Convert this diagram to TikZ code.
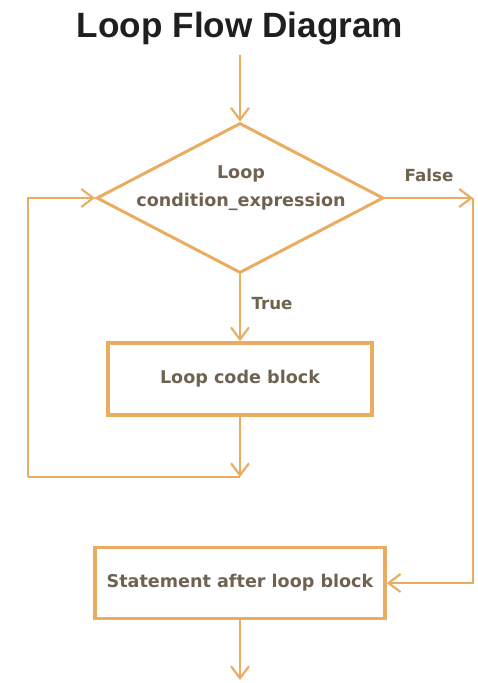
\documentclass[tikz,border=0pt]{standalone}
\usepackage{fontspec}
\setmainfont{Liberation Sans}
\newfontfamily\labelfont{DejaVu Sans}
\usepackage{tikz}
\usetikzlibrary{shapes.geometric, arrows.meta, positioning}
\definecolor{LoopLine}{RGB}{234,172,96}
\definecolor{LoopText}{RGB}{112,98,80}

\begin{document}
\begin{tikzpicture}[x=0.02cm, y=-0.02cm,
    flowline/.style={LoopLine, line width=1.3pt, -{Straight Barb[length=2.4mm, width=3.6mm, line width=1.2pt]}},
    plainline/.style={LoopLine, line width=1.3pt},
    decision/.style={diamond, draw=LoopLine, line width=1.7pt, aspect=1.9, minimum width=5.74cm, minimum height=3cm},
    stepbox/.style={rectangle, draw=LoopLine, line width=2.1pt, align=center, text=LoopText, font=\labelfont\bfseries\fontsize{10}{12}\selectfont},
    steptext/.style={align=center, text=LoopText, font=\labelfont\bfseries\fontsize{10}{12}\selectfont},
    edgelabel/.style={text=LoopText, font=\labelfont\bfseries\fontsize{9.5}{11}\selectfont}]
        \useasboundingbox (0,0) rectangle (477,683);
        % heading
        \node[anchor=base, font=\fontsize{20}{22}\selectfont\bfseries, text=black!88, inner sep=0pt] (title) at (240,37) {Loop Flow Diagram};
        % main nodes
        \coordinate (start) at (240,55);
        \node[decision] (cond) at (240,198) {};
        \node[steptext] (condtext) at (241,188) {Loop\\[4pt]condition\_expression};
        \node[stepbox, minimum width=5.28cm, minimum height=1.44cm] (body) at (240,379) {Loop code block};
        \node[stepbox, minimum width=5.8cm, minimum height=1.42cm] (after) at (240,583) {Statement after loop block};
        \coordinate (falseturn) at (473,198);
        \coordinate (join) at (240,477);
        \coordinate (back) at (28,477);
        \coordinate (finish) at (240,680);
        % connectors
        \draw[flowline] (start) -- (cond.north);
        \draw[flowline] (cond.east) -- (falseturn);
        \draw[flowline] (falseturn) |- (after.east);
        \draw[flowline] (cond.south) -- (body.north);
        \draw[flowline] (body.south) -- (join);
        \draw[plainline] (join) -- (back);
        \draw[flowline] (back) |- (cond.west);
        \draw[flowline] (after.south) -- (finish);
        % branch labels
        \node[edgelabel] (nolabel) at (429,175) {False};
        \node[edgelabel] (yeslabel) at (272,304) {True};
      \end{tikzpicture}
\end{document}
